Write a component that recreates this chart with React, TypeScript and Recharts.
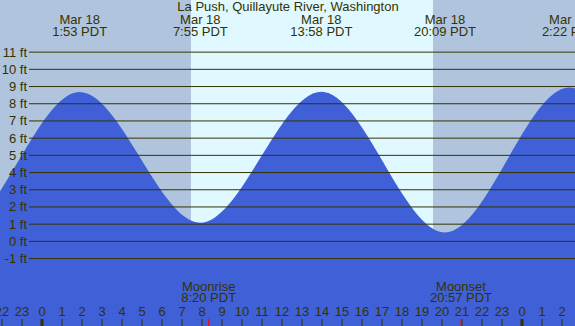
import {
  ComposedChart,
  Area,
  XAxis,
  YAxis,
  ReferenceArea,
  ReferenceLine,
} from "recharts";

// hours from midnight, Mar 18 (PDT)
const curveTimes = [-10.4, -4.2, 1.883, 7.917, 13.967, 20.15, 26.367, 32.6, 38.8];
const curveHeights = [8.4, 0.7, 8.68, 1.08, 8.7, 0.52, 8.95, -0.1, 8.6];

const tideTimes = [1.883, 7.917, 13.967, 20.15, 26.367];
const tideDates = ["Mar 18", "Mar 18", "Mar 18", "Mar 18", "Mar 19"];
const tideLabels = ["1:53 PDT", "7:55 PDT", "13:58 PDT", "20:09 PDT", "2:22 PDT"];

const moonTimes = [8.333, 20.95];
const moonNames = ["Moonrise", "Moonset"];
const moonLabels = ["8:20 PDT", "20:57 PDT"];

const sunrise = 7.45;
const sunset = 19.55;

const hourTicks = [
  -2, -1, 0, 1, 2, 3, 4, 5, 6, 7, 8, 9, 10, 11, 12, 13, 14, 15, 16, 17, 18, 19,
  20, 21, 22, 23, 24, 25, 26,
];
const feetTicks = [-1, 0, 1, 2, 3, 4, 5, 6, 7, 8, 9, 10, 11];

const xDomain = [-2.1, 26.65];
const yDomain = [-4.92, 14.03];

const data = curveTimes.map((t, i) => ({ t, h: curveHeights[i] }));

const FONT = "'Liberation Sans', Arial, sans-serif";
const INK = "#333300";
const FS = 13;

const renderHourTick = (props: any) => {
  const { x, payload } = props;
  const v = payload.value;
  const label = ((v % 24) + 24) % 24;
  const midnight = label === 0;
  return (
    <g key={`h-${v}`}>
      <line
        x1={x}
        x2={x}
        y1={319}
        y2={326}
        stroke={INK}
        strokeWidth={midnight ? 3 : 1}
      />
      <text x={x} y={316} textAnchor="middle" fontSize={FS} fill={INK} fontFamily={FONT}>
        {label}
      </text>
    </g>
  );
};

const renderTideTick = (props: any) => {
  const { x, payload, index } = props;
  return (
    <g key={`t-${index}`}>
      <text x={x} y={23.5} textAnchor="middle" fontSize={FS} fill={INK} fontFamily={FONT}>
        {tideDates[index] ?? ""}
      </text>
      <text x={x} y={36} textAnchor="middle" fontSize={FS} fill={INK} fontFamily={FONT}>
        {tideLabels[index] ?? String(payload.value)}
      </text>
    </g>
  );
};

const renderMoonTick = (props: any) => {
  const { x, index } = props;
  return (
    <g key={`m-${index}`}>
      <text x={x} y={291} textAnchor="middle" fontSize={FS} fill={INK} fontFamily={FONT}>
        {moonNames[index]}
      </text>
      <text x={x} y={302} textAnchor="middle" fontSize={FS} fill={INK} fontFamily={FONT}>
        {moonLabels[index]}
      </text>
      <line x1={x} x2={x} y1={319} y2={326} stroke="#ff0000" strokeWidth={1} />
    </g>
  );
};

const renderFeetTick = (props: any) => {
  const { y, payload } = props;
  return (
    <text
      key={`f-${payload.value}`}
      x={27}
      y={y + 4.5}
      textAnchor="end"
      fontSize={FS}
      fill={INK}
      fontFamily={FONT}
    >
      {`${payload.value} ft`}
    </text>
  );
};

export default function App() {
  return (
    <div style={{ width: 575, height: 326 }}>
      <style>{`body{margin:0;}`}</style>
      <ComposedChart
        width={575}
        height={326}
        data={data}
        margin={{ top: 0, right: 0, bottom: 0, left: 0 }}
      >
        <XAxis
          dataKey="t"
          type="number"
          domain={xDomain}
          allowDataOverflow
          ticks={hourTicks}
          interval={0}
          mirror
          axisLine={false}
          tickLine={false}
          tick={renderHourTick}
        />
        <XAxis
          xAxisId="top"
          dataKey="t"
          type="number"
          orientation="top"
          domain={xDomain}
          allowDataOverflow
          ticks={tideTimes}
          interval={0}
          mirror
          axisLine={false}
          tickLine={false}
          tick={renderTideTick}
        />
        <XAxis
          xAxisId="moon"
          dataKey="t"
          type="number"
          domain={xDomain}
          allowDataOverflow
          ticks={moonTimes}
          interval={0}
          mirror
          axisLine={false}
          tickLine={false}
          tick={renderMoonTick}
        />
        <YAxis
          type="number"
          domain={yDomain}
          allowDataOverflow
          ticks={feetTicks}
          interval={0}
          mirror
          axisLine={false}
          tickLine={false}
          tick={renderFeetTick}
        />
        <ReferenceArea
          x1={xDomain[0]}
          x2={sunrise}
          fill="#b0c4de"
          fillOpacity={1}
          ifOverflow="hidden"
          zIndex={-50}
        />
        <ReferenceArea
          x1={sunrise}
          x2={sunset}
          fill="#e0f8ff"
          fillOpacity={1}
          ifOverflow="hidden"
          zIndex={-50}
        />
        <ReferenceArea
          x1={sunset}
          x2={xDomain[1]}
          fill="#b0c4de"
          fillOpacity={1}
          ifOverflow="hidden"
          zIndex={-50}
        />
        <Area
          dataKey="h"
          type="monotone"
          stroke="none"
          fill="#4060d8"
          fillOpacity={1}
          baseValue="dataMin"
          isAnimationActive={false}
        />
        {feetTicks.map((f) => (
          <ReferenceLine
            key={f}
            segment={[
              { x: -0.65, y: f },
              { x: xDomain[1], y: f },
            ]}
            stroke={INK}
            strokeWidth={1}
            ifOverflow="visible"
            zIndex={450}
          />
        ))}
        <text
          x={288}
          y={10.5}
          textAnchor="middle"
          fontSize={FS}
          fill={INK}
          fontFamily={FONT}
        >
          La Push, Quillayute River, Washington
        </text>
      </ComposedChart>
    </div>
  );
}
